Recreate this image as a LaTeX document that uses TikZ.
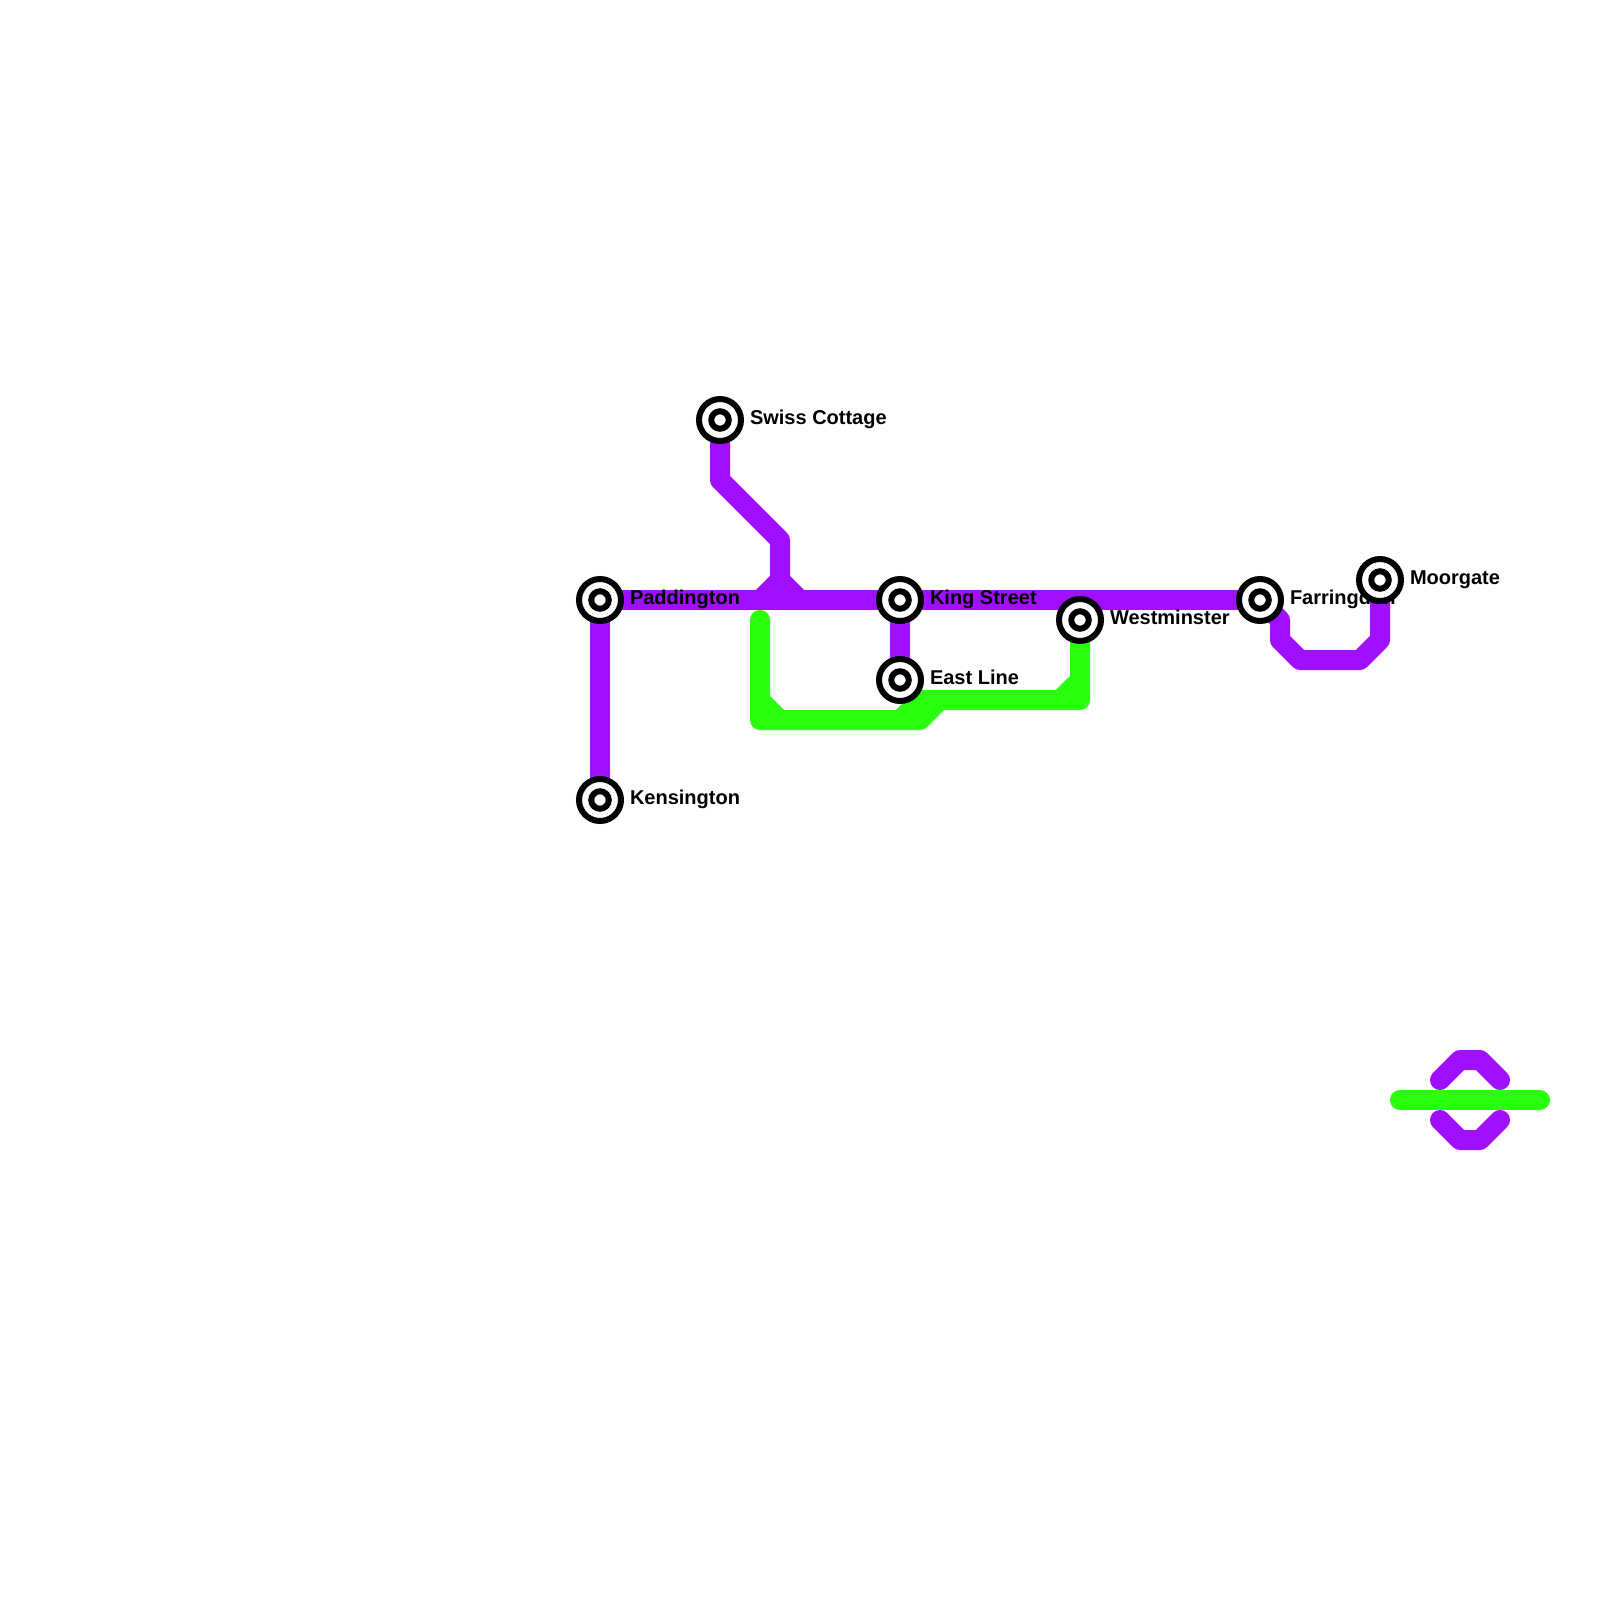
\documentclass[tikz,border=0pt]{standalone}
\usepackage{fontspec}
\setmainfont{Liberation Sans}
\usetikzlibrary{backgrounds}
\definecolor{linepurple}{HTML}{A010FF}
\definecolor{linegreen}{HTML}{2BFF10}
\tikzset{
  x=1pt,y=-1pt,
  station/.style={circle,draw=black,fill=white,line width=6pt,minimum size=42pt,inner sep=0pt,outer sep=0pt},
  stationcore/.style={circle,draw=black,fill=white,line width=6pt,minimum size=17.5pt,inner sep=0pt,outer sep=0pt},
  stationlabel/.style={anchor=base west,inner sep=0pt,outer sep=0pt,font=\fontsize{20}{24}\selectfont\bfseries,text=black},
  purple line/.style={draw=linepurple,line width=20pt,line join=round,line cap=round},
  green line/.style={draw=linegreen,line width=20pt,line join=round,line cap=round},
  butt/.style={line cap=butt},
}
\newcommand{\stn}[4]{%
  \node[station] (#1) at (#2,#3) {};
  \node[stationcore] (#1c) at (#2,#3) {};
  \node[stationlabel] (#1l) at (#2+30,#3+4.5) {#4};
}
\begin{document}
\begin{tikzpicture}
\useasboundingbox (0,0) rectangle (1600,1600);
\stn{pad}{600}{600}{Paddington}
\stn{ken}{600}{800}{Kensington}
\stn{swi}{720}{420}{Swiss Cottage}
\stn{kin}{900}{600}{King Street}
\stn{eas}{900}{680}{East Line}
\stn{wes}{1080}{620}{Westminster}
\stn{far}{1260}{600}{Farringdon}
\stn{moo}{1380}{580}{Moorgate}
\coordinate (p1) at (720,480);
\coordinate (p2) at (780,540);
\coordinate (p3) at (780,580);
\coordinate (p4) at (760,600);
\coordinate (p5) at (800,600);
\coordinate (f1) at (1280,620);
\coordinate (f2) at (1280,640);
\coordinate (f3) at (1300,660);
\coordinate (f4) at (1360,660);
\coordinate (f5) at (1380,640);
\coordinate (g0) at (760,620);
\coordinate (g1) at (760,720);
\coordinate (g2) at (920,720);
\coordinate (g3) at (940,700);
\coordinate (g4) at (1080,700);
\coordinate (g5) at (760,700);
\coordinate (g6) at (780,720);
\coordinate (g7) at (900,720);
\coordinate (g8) at (920,700);
\coordinate (g9) at (1060,700);
\coordinate (g10) at (1080,680);
\coordinate (a1) at (1440,1080);
\coordinate (a2) at (1460,1060);
\coordinate (a3) at (1480,1060);
\coordinate (a4) at (1500,1080);
\coordinate (b1) at (1440,1120);
\coordinate (b2) at (1460,1140);
\coordinate (b3) at (1480,1140);
\coordinate (b4) at (1500,1120);
\coordinate (l1) at (1400,1100);
\coordinate (l2) at (1540,1100);
\begin{pgfonlayer}{background}
\fill[white] (0,0) rectangle (1600,1600);
\draw[purple line,butt] (ken.center) -- (pad.center) -- (far.center);
\draw[purple line,butt] (swi.center) -- (p1) -- (p2) -- (p3) -- (p4);
\draw[purple line,butt] (p3) -- (p5);
\draw[purple line,butt] (kin.center) -- (eas.center);
\draw[purple line,butt] (far.center) -- (f1) -- (f2) -- (f3) -- (f4) -- (f5) -- (moo.center);
\draw[green line] (g0) -- (g1) -- (g2) -- (g3) -- (g4) -- (wes.center);
\draw[green line,butt] (g5) -- (g6);
\draw[green line,butt] (g7) -- (g8) -- (g3);
\draw[green line,butt] (g9) -- (g10);
\draw[purple line] (a1) -- (a2) -- (a3) -- (a4);
\draw[purple line] (b1) -- (b2) -- (b3) -- (b4);
\draw[green line] (l1) -- (l2);
\end{pgfonlayer}
\end{tikzpicture}
\end{document}
